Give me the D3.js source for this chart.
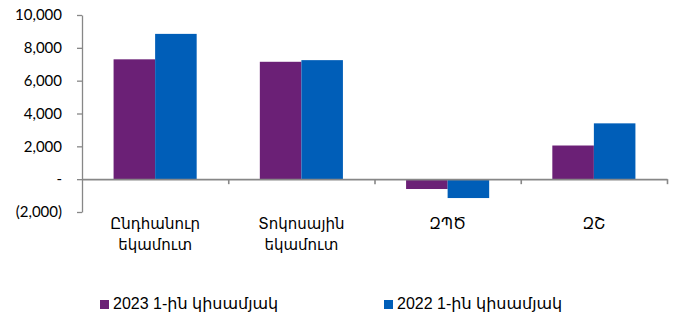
<!DOCTYPE html>
<html>
<head>
<meta charset="utf-8">
<script src="https://cdn.jsdelivr.net/npm/d3@7"></script>
<style>
  body { margin: 0; background: #fff; }
  svg { display: block; }
</style>
</head>
<body>
<div id="chart"></div>
<script>
// data
var categories = [["Ընդհանուր", "եկամուտ"], ["Տոկոսային", "եկամուտ"], ["ԶՊԾ"], ["ԶՇ"]];
var seriesNames = ["2023 1-ին կիսամյակ", "2022 1-ին կիսամյակ"];
var values2023 = [7300, 7150, -600, 2050];
var values2022 = [8850, 7250, -1150, 3400];
var yTicks = [-2000, 0, 2000, 4000, 6000, 8000, 10000];
var colors = ["#6B2076", "#005EB8"];

var width = 673, height = 321;
var plot = { left: 82, right: 667, top: 15, bottom: 212 };

var svg = d3.select("#chart")
    .append("svg")
    .attr("width", width)
    .attr("height", height);

var y = d3.scaleLinear()
    .domain([-2000, 10000])
    .range([plot.bottom, plot.top]);

var x = d3.scaleBand()
    .domain(d3.range(categories.length))
    .range([plot.left, plot.right])
    .padding(0);

var xs = d3.scaleBand()
    .domain([0, 1])
    .range([0, x.bandwidth()])
    .paddingInner(0)
    .paddingOuter(0.76);

var fmt = d3.format(",");
function tickText(d) {
    if (d === 0) return "-";
    if (d < 0) return "(" + fmt(-d) + ")";
    return fmt(d);
}

// bars
var rows = categories.map(function(c, i) {
    return [values2023[i], values2022[i]];
});

var groups = svg.append("g")
    .selectAll("g")
    .data(rows)
    .enter()
    .append("g")
    .attr("transform", function(d, i) { return "translate(" + x(i) + ",0)"; });

groups.selectAll("rect")
    .data(function(d) { return d; })
    .enter()
    .append("rect")
    .attr("x", function(d, j) { return xs(j); })
    .attr("width", xs.bandwidth())
    .attr("y", function(d) { return y(Math.max(0, d)); })
    .attr("height", function(d) { return Math.abs(y(d) - y(0)); })
    .style("fill", function(d, j) { return colors[j]; });

// y axis
var yAxis = svg.append("g")
    .attr("transform", "translate(" + plot.left + ",0)")
    .call(d3.axisLeft(y).tickValues(yTicks).tickFormat(tickText).tickSize(5).tickSizeOuter(0).tickPadding(15));
yAxis.selectAll("path, line").attr("stroke", "#878787").attr("stroke-width", 1.3);
yAxis.selectAll("text")
    .style("font-family", "Lato, 'Open Sans', sans-serif")
    .style("font-size", "15px")
    .attr("fill", "#000");

// x axis at zero with ticks at category boundaries
var xEdge = d3.scaleLinear().domain([0, categories.length]).range([plot.left, plot.right]);
var xAxis = svg.append("g")
    .attr("transform", "translate(0," + y(0) + ")")
    .call(d3.axisBottom(xEdge).tickValues([1, 2, 3, 4]).tickFormat("").tickSize(5).tickSizeOuter(0));
xAxis.selectAll("path, line").attr("stroke", "#878787").attr("stroke-width", 1.6);

// category labels
svg.append("g")
    .selectAll("text")
    .data(categories)
    .enter()
    .append("text")
    .attr("x", function(d, i) { return x(i) + x.bandwidth() / 2; })
    .attr("y", 229)
    .attr("text-anchor", "middle")
    .style("font-family", "'DejaVu Sans', sans-serif")
    .style("font-size", "15px")
    .each(function(d) {
        var t = d3.select(this);
        d.forEach(function(line, k) {
            t.append("tspan")
                .attr("x", t.attr("x"))
                .attr("dy", k === 0 ? 0 : 21)
                .text(line);
        });
    });

// legend
var legendX = [100, 384];
var legend = svg.append("g")
    .selectAll("g")
    .data(seriesNames)
    .enter()
    .append("g")
    .attr("transform", function(d, i) { return "translate(" + legendX[i] + ",300)"; });

legend.append("rect")
    .attr("width", 9)
    .attr("height", 9)
    .style("fill", function(d, i) { return colors[i]; });

legend.append("text")
    .attr("x", 13)
    .attr("y", 9)
    .style("font-family", "'Liberation Sans', 'DejaVu Sans', sans-serif")
    .style("font-size", "16px")
    .text(function(d) { return d; });
</script>
</body>
</html>
